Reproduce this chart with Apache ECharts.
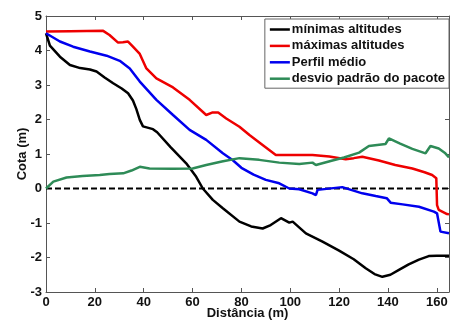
<!DOCTYPE html>
<html><head><meta charset="utf-8">
<script src="https://cdn.jsdelivr.net/npm/echarts@6/dist/echarts.min.js"></script>
<style>html,body{margin:0;padding:0;background:#fff}#c{width:451px;height:322px}</style>
</head><body><div id="c"></div>
<script>
const seriesNames = ['mínimas altitudes', 'máximas altitudes', 'Perfil médio', 'desvio padrão do pacote'];
const xTitle = 'Distância (m)';
const yTitle = 'Cota (m)';

const minX = [0, 1.6, 5.7, 9.8, 14, 18, 20.7, 24, 27.5, 31, 33.6, 35.6, 37, 38.4, 39.7, 43.8, 45.5, 51, 57.4, 61.5, 64.2, 68.3, 72.4, 79.2, 84, 88.7, 92, 96.2, 99.6, 101, 106.4, 113.2, 120, 126, 130.9, 134.5, 137.7, 141, 144.5, 148.5, 152.7, 156.7, 160, 165];
const minY = [4.5, 4.14, 3.82, 3.58, 3.49, 3.45, 3.39, 3.22, 3.05, 2.9, 2.76, 2.55, 2.3, 1.99, 1.8, 1.72, 1.63, 1.2, 0.73, 0.34, 0.0, -0.33, -0.57, -0.96, -1.1, -1.16, -1.06, -0.86, -0.99, -0.96, -1.3, -1.54, -1.8, -2.05, -2.31, -2.48, -2.56, -2.5, -2.36, -2.2, -2.06, -1.96, -1.95, -1.95];

const maxX = [0, 10, 23.4, 26, 29.5, 31.5, 33.6, 35.5, 38.4, 41.1, 45.2, 52, 58.8, 65.6, 68, 70.5, 73.8, 79.2, 83.3, 88, 94.1, 100, 109.1, 116, 122.7, 126, 129.5, 136.3, 143, 150, 155, 158.1, 159.8, 160.1, 160.8, 164.2, 165];
const maxY = [4.55, 4.56, 4.57, 4.45, 4.23, 4.24, 4.26, 4.12, 3.9, 3.48, 3.19, 2.93, 2.57, 2.13, 2.2, 2.2, 2.03, 1.79, 1.55, 1.3, 0.97, 0.97, 0.97, 0.93, 0.85, 0.88, 0.92, 0.81, 0.68, 0.58, 0.47, 0.39, 0.3, -0.48, -0.62, -0.74, -0.75];

const medX = [0, 5.7, 11.1, 18, 24.8, 30.2, 34.3, 38.4, 45.2, 52, 58.8, 65.6, 72.4, 76.5, 80, 85, 90, 95.5, 99.6, 103.7, 109.1, 110.5, 111.2, 121.3, 129.5, 135, 139.5, 141.1, 146, 152.7, 158.8, 160.1, 161.5, 165];
const medY = [4.5, 4.26, 4.11, 3.97, 3.85, 3.7, 3.48, 3.1, 2.57, 2.13, 1.7, 1.41, 1.02, 0.82, 0.6, 0.4, 0.25, 0.15, 0.0, -0.02, -0.14, -0.19, -0.04, 0.04, -0.14, -0.22, -0.28, -0.41, -0.46, -0.53, -0.67, -0.72, -1.25, -1.3];

const sdX = [0, 3, 8.4, 15, 22, 26, 31.6, 35, 38.4, 42.4, 52, 60, 65.6, 72, 79.2, 87.3, 95.5, 103.7, 109.1, 110.5, 117.3, 122, 128.2, 132.2, 139, 140.4, 145, 150, 155.4, 157.4, 160.8, 163.5, 165];
const sdY = [0.0, 0.2, 0.32, 0.36, 0.39, 0.42, 0.44, 0.52, 0.63, 0.58, 0.57, 0.58, 0.68, 0.78, 0.88, 0.83, 0.75, 0.71, 0.75, 0.68, 0.81, 0.9, 1.04, 1.23, 1.29, 1.45, 1.3, 1.15, 1.02, 1.23, 1.16, 1.02, 0.9];

const zeroX = [0, 165];
const zeroY = [0, 0];

const colors = ['#000000', '#ee0000', '#0000ee', '#2e8b57'];
const FONT = 'Liberation Sans, Arial, sans-serif';

function zip(xs, ys) { return xs.map((x, i) => [x, ys[i]]); }

const chart = echarts.init(document.getElementById('c'), null, {renderer: 'canvas'});
const axisCol = '#555';
const labelStyle = {fontFamily: FONT, fontWeight: 'bold', fontSize: 13, color: '#111'};

function mkX(pos, show) {
  return {
    type: 'value', position: pos, min: 0, max: 165, interval: 20,
    axisLine: {show: true, onZero: false, lineStyle: {color: axisCol, width: 1}},
    axisTick: {show: true, inside: true, length: 4, lineStyle: {color: axisCol}},
    axisLabel: Object.assign({show: show, showMaxLabel: false, margin: 4}, labelStyle),
    splitLine: {show: false},
    name: show ? xTitle : '', nameLocation: 'middle', nameGap: 15, nameMoveOverlap: false,
    nameTextStyle: labelStyle
  };
}
function mkY(pos, show) {
  return {
    type: 'value', position: pos, min: -3, max: 5, interval: 1,
    axisLine: {show: true, onZero: false, lineStyle: {color: axisCol, width: 1}},
    axisTick: {show: true, inside: true, length: 4, lineStyle: {color: axisCol}},
    axisLabel: Object.assign({show: show, margin: 4}, labelStyle),
    splitLine: {show: false},
    name: show ? yTitle : '', nameLocation: 'middle', nameGap: 17, nameMoveOverlap: false,
    nameTextStyle: labelStyle
  };
}

const dataSets = [zip(minX, minY), zip(maxX, maxY), zip(medX, medY), zip(sdX, sdY)];

const series = seriesNames.map((n, i) => ({
  name: n, type: 'line', data: dataSets[i], symbol: 'none', smooth: false,
  lineStyle: {color: colors[i], width: 2.5}, itemStyle: {color: colors[i]},
  z: 3 + i, animation: false
}));
series.unshift({
  name: 'zero', type: 'line', data: zip(zeroX, zeroY), symbol: 'none',
  lineStyle: {color: '#000', width: 2, type: [6, 3]}, z: 2, animation: false, silent: true
});

chart.setOption({
  animation: false,
  backgroundColor: '#fff',
  grid: {left: 46, right: 2, top: 16, bottom: 30, containLabel: false, outerBoundsMode: 'none'},
  xAxis: [mkX('bottom', true), mkX('top', false)],
  yAxis: [mkY('left', true), mkY('right', false)],
  legend: {
    data: seriesNames, orient: 'vertical', right: 2, top: 19,
    icon: 'path://M0,0 L20,0 L20,2.5 L0,2.5 Z',
    backgroundColor: '#fff', borderColor: '#666', borderWidth: 1,
    padding: [4, 4, 3, 5], itemGap: 3.4, itemWidth: 20, itemHeight: 13,
    textStyle: {fontFamily: FONT, fontWeight: 'bold', fontSize: 13, color: '#111', padding: [0, 0, 0, -3]}
  },
  series: series
});
</script></body></html>
